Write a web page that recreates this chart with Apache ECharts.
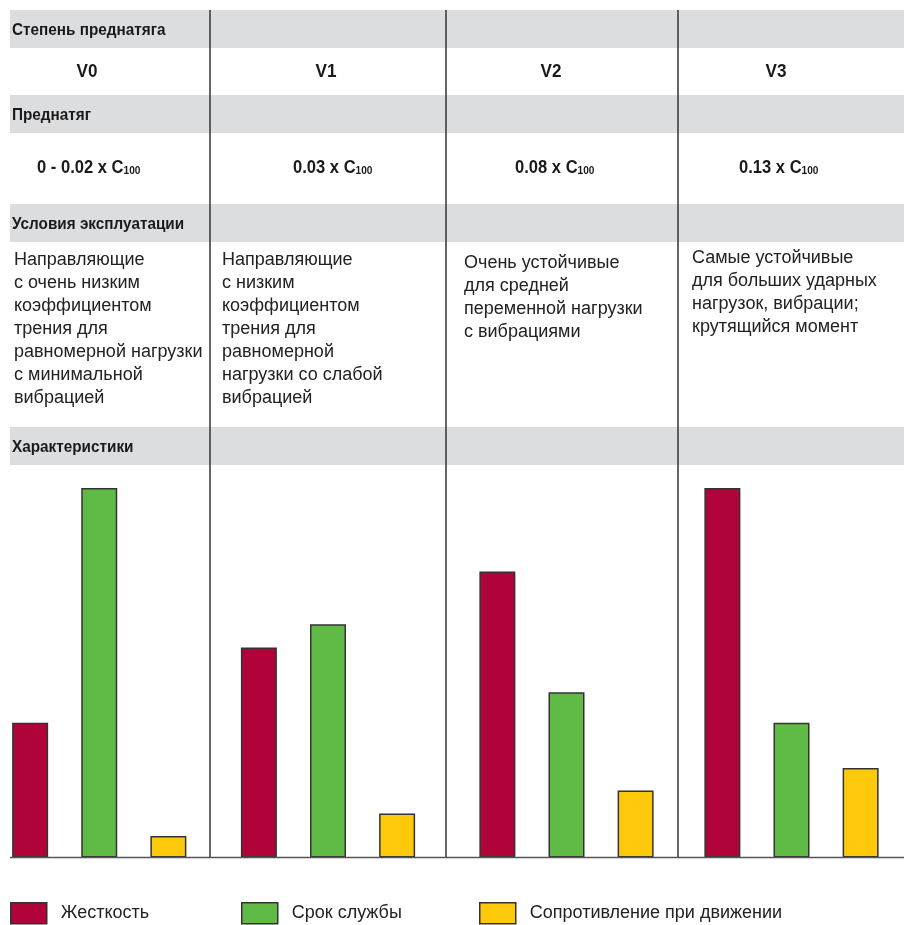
<!DOCTYPE html>
<html>
<head>
<meta charset="utf-8">
<script src="https://cdn.jsdelivr.net/npm/echarts@6/dist/echarts.min.js"></script>
<style>
html,body{margin:0;padding:0;background:#fff;}
#main{width:904px;height:925px;}
</style>
</head>
<body>
<div id="main"></div>
<script>
// данные таблицы
var rowTitles = ['Степень преднатяга', 'Преднатяг', 'Условия эксплуатации', 'Характеристики'];
var classNames = ['V0', 'V1', 'V2', 'V3'];
var preloadText = ['0 - 0.02 x C', '0.03 x C', '0.08 x C', '0.13 x C'];
var preloadSub = '100';
var conditions = [
	['Направляющие', 'с очень низким', 'коэффициентом', 'трения для', 'равномерной нагрузки', 'с минимальной', 'вибрацией'],
	['Направляющие', 'с низким', 'коэффициентом', 'трения для', 'равномерной', 'нагрузки со слабой', 'вибрацией'],
	['Очень устойчивые', 'для средней', 'переменной нагрузки', 'с вибрациями'],
	['Самые устойчивые', 'для больших ударных', 'нагрузок, вибрации;', 'крутящийся момент']
];
var seriesNames = ['Жесткость', 'Срок службы', 'Сопротивление при движении'];
var stiffnessData = [36.5, 56.8, 77.4, 100];
var lifeData = [100, 63.1, 44.7, 36.5];
var resistanceData = [5.8, 11.9, 18.1, 24.2];
var seriesData = [stiffnessData, lifeData, resistanceData];
var seriesColors = ['#b0033a', '#5fbb46', '#fec90a'];

// раскладка
var colLines = [210, 446, 678];
var bandTops = [10, 95, 204, 427];
var bandH = 38;
var baseY = 857.5;
var groupCenters = [98.5, 328, 566.5, 791.5];
var vX = [87, 326, 551, 776];
var preX = [37, 293, 515, 739];
var condX = [14, 222, 464, 692];
var condY = [260, 260, 263, 258];
var headFont = "'Liberation Sans', Arial, sans-serif";
var bodyFont = "'Liberation Sans', Arial, sans-serif";

var chart = echarts.init(document.getElementById('main'));

var graphics = [];
bandTops.forEach(function (t, i) {
	graphics.push({
		type: 'rect', z: 0,
		shape: {x: 10, y: t, width: 894, height: bandH},
		style: {fill: '#dcdddf'}
	});
	// узкий жирный шрифт имитируем сжатием по горизонтали
	graphics.push({
		type: 'text', z: 5, x: 12, y: t + bandH / 2 + 1, scaleX: 0.9,
		style: {
			text: rowTitles[i], x: 0, y: 0,
			verticalAlign: 'middle', fill: '#1a1a1a',
			font: 'bold 17px ' + headFont
		}
	});
});
colLines.forEach(function (x) {
	graphics.push({
		type: 'line', z: 10,
		shape: {x1: x, y1: 10, x2: x, y2: baseY},
		style: {stroke: '#333', lineWidth: 1.5}
	});
});
graphics.push({
	type: 'line', z: 10,
	shape: {x1: 10, y1: baseY, x2: 904, y2: baseY},
	style: {stroke: '#555', lineWidth: 1.5}
});
classNames.forEach(function (name, i) {
	graphics.push({
		type: 'text', z: 5, x: vX[i], y: 72, scaleX: 0.9,
		style: {
			text: name, x: 0, y: 0, align: 'center', verticalAlign: 'middle',
			fill: '#1a1a1a', font: 'bold 19px ' + headFont
		}
	});
	graphics.push({
		type: 'text', z: 5, x: preX[i], y: 167, scaleX: 0.92,
		style: {
			text: '{a|' + preloadText[i] + '}{b|' + preloadSub + '}',
			x: 0, y: 0, verticalAlign: 'middle',
			rich: {
				a: {fontFamily: headFont, fontWeight: 'bold', fontSize: 18, fill: '#1a1a1a', lineHeight: 20, verticalAlign: 'bottom'},
				b: {fontFamily: headFont, fontWeight: 'bold', fontSize: 11, fill: '#1a1a1a', lineHeight: 20, verticalAlign: 'bottom', padding: [0, 0, 1, 0]}
			}
		}
	});
	graphics.push({
		type: 'text', z: 5,
		style: {
			text: conditions[i].join('\n'), x: condX[i], y: condY[i] - 11.5,
			verticalAlign: 'top', fill: '#222', lineHeight: 23,
			font: '18px ' + bodyFont
		}
	});
});

var grids = [], xAxes = [], yAxes = [], series = [];
groupCenters.forEach(function (c, g) {
	grids.push({left: c - 100, width: 200, top: 488, bottom: 925 - baseY});
	xAxes.push({type: 'category', gridIndex: g, data: [classNames[g]], show: false});
	yAxes.push({type: 'value', gridIndex: g, min: 0, max: 100, show: false});
	seriesNames.forEach(function (n, s) {
		series.push({
			name: n, type: 'bar', xAxisIndex: g, yAxisIndex: g,
			barWidth: 36, barGap: '92%',
			itemStyle: {color: seriesColors[s], borderColor: '#333', borderWidth: 1.5},
			data: [seriesData[s][g]]
		});
	});
});

var legendLeft = [10, 241, 479];
var legends = seriesNames.map(function (n, i) {
	return {
		data: [n], left: legendLeft[i], top: 902, padding: 0,
		itemWidth: 36, itemHeight: 21, icon: 'rect',
		itemStyle: {borderColor: '#333', borderWidth: 1.5},
		textStyle: {fontFamily: bodyFont, fontSize: 18, color: '#222', padding: [0, 0, 0, 9]},
		selectedMode: false
	};
});

chart.setOption({
	animation: false,
	backgroundColor: '#fff',
	grid: grids,
	xAxis: xAxes,
	yAxis: yAxes,
	legend: legends,
	series: series,
	graphic: graphics
});
</script>
</body>
</html>
